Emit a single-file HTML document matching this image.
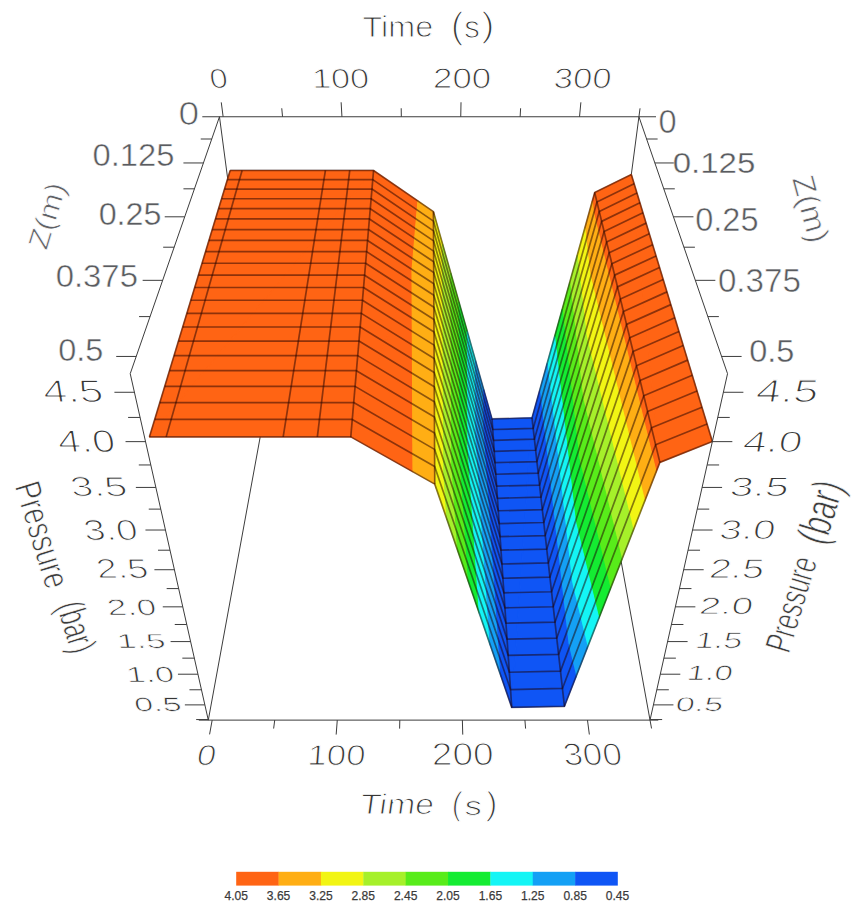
<!DOCTYPE html>
<html><head><meta charset="utf-8"><style>
html,body{margin:0;padding:0;background:#fff;}
svg{display:block;}
text{font-family:"Liberation Sans",sans-serif;}
</style></head><body>
<svg width="862" height="917" viewBox="0 0 862 917">
<rect width="862" height="917" fill="#fff"/>
<line x1="219.47" y1="116.75" x2="261.21" y2="431.44" stroke="#3c3c3c" stroke-width="1.0" />
<line x1="208.30" y1="720.12" x2="261.21" y2="431.44" stroke="#3c3c3c" stroke-width="1.0" />
<line x1="638.93" y1="116.75" x2="597.49" y2="431.44" stroke="#3c3c3c" stroke-width="1.0" />
<line x1="650.03" y1="720.12" x2="597.49" y2="431.44" stroke="#3c3c3c" stroke-width="1.0" />
<polygon points="230.14,170.46 373.56,170.46 149.45,436.87" fill="#ff6414" stroke="#ff6414" stroke-width="1.1" stroke-linejoin="round"/>
<polygon points="373.56,170.46 350.78,436.87 149.45,436.87" fill="#ff6414" stroke="#ff6414" stroke-width="1.1" stroke-linejoin="round"/>
<polygon points="373.56,170.46 417.90,200.96 411.99,270.03 350.78,436.87" fill="#ff6414" stroke="#ff6414" stroke-width="1.1" stroke-linejoin="round"/>
<polygon points="412.99,471.87 350.78,436.87 411.99,270.03" fill="#ff6414" stroke="#ff6414" stroke-width="1.1" stroke-linejoin="round"/>
<polygon points="417.90,200.96 433.42,211.64 411.99,270.03" fill="#ffae14" stroke="#ffae14" stroke-width="1.1" stroke-linejoin="round"/>
<polygon points="433.42,211.64 434.76,484.12 412.99,471.87 411.99,270.03" fill="#ffae14" stroke="#ffae14" stroke-width="1.1" stroke-linejoin="round"/>
<polygon points="433.42,211.64 434.44,215.27 435.77,482.98 434.76,484.12" fill="#ffae14" stroke="#ffae14" stroke-width="1.1" stroke-linejoin="round"/>
<polygon points="436.11,488.04 434.76,484.12 435.77,482.98" fill="#ffae14" stroke="#ffae14" stroke-width="1.1" stroke-linejoin="round"/>
<polygon points="434.44,215.27 442.67,244.37 443.80,473.83 435.77,482.98" fill="#f2f514" stroke="#f2f514" stroke-width="1.1" stroke-linejoin="round"/>
<polygon points="446.92,519.37 436.11,488.04 435.77,482.98 443.80,473.83" fill="#f2f514" stroke="#f2f514" stroke-width="1.1" stroke-linejoin="round"/>
<polygon points="442.67,244.37 450.89,273.46 451.84,464.68 443.80,473.83" fill="#a6f02a" stroke="#a6f02a" stroke-width="1.1" stroke-linejoin="round"/>
<polygon points="457.72,550.71 446.92,519.37 443.80,473.83 451.84,464.68" fill="#a6f02a" stroke="#a6f02a" stroke-width="1.1" stroke-linejoin="round"/>
<polygon points="450.89,273.46 459.12,302.56 459.88,455.53 451.84,464.68" fill="#58ec1a" stroke="#58ec1a" stroke-width="1.1" stroke-linejoin="round"/>
<polygon points="468.52,582.04 457.72,550.71 451.84,464.68 459.88,455.53" fill="#58ec1a" stroke="#58ec1a" stroke-width="1.1" stroke-linejoin="round"/>
<polygon points="459.12,302.56 467.35,331.65 467.91,446.38 459.88,455.53" fill="#14ec32" stroke="#14ec32" stroke-width="1.1" stroke-linejoin="round"/>
<polygon points="479.33,613.38 468.52,582.04 459.88,455.53 467.91,446.38" fill="#14ec32" stroke="#14ec32" stroke-width="1.1" stroke-linejoin="round"/>
<polygon points="467.35,331.65 475.57,360.75 475.95,437.23 467.91,446.38" fill="#14f5f5" stroke="#14f5f5" stroke-width="1.1" stroke-linejoin="round"/>
<polygon points="490.13,644.71 479.33,613.38 467.91,446.38 475.95,437.23" fill="#14f5f5" stroke="#14f5f5" stroke-width="1.1" stroke-linejoin="round"/>
<polygon points="475.57,360.75 483.80,389.84 483.99,428.09 475.95,437.23" fill="#14a0f5" stroke="#14a0f5" stroke-width="1.1" stroke-linejoin="round"/>
<polygon points="500.93,676.05 490.13,644.71 475.95,437.23 483.99,428.09" fill="#14a0f5" stroke="#14a0f5" stroke-width="1.1" stroke-linejoin="round"/>
<polygon points="483.80,389.84 492.02,418.94 483.99,428.09" fill="#0f55f5" stroke="#0f55f5" stroke-width="1.1" stroke-linejoin="round"/>
<polygon points="492.02,418.94 511.74,707.39 500.93,676.05 483.99,428.09" fill="#0f55f5" stroke="#0f55f5" stroke-width="1.1" stroke-linejoin="round"/>
<polygon points="492.02,418.94 532.00,417.88 511.74,707.39" fill="#0f55f5" stroke="#0f55f5" stroke-width="1.1" stroke-linejoin="round"/>
<polygon points="532.00,417.88 564.45,706.30 511.74,707.39" fill="#0f55f5" stroke="#0f55f5" stroke-width="1.1" stroke-linejoin="round"/>
<polygon points="592.24,201.37 594.69,192.58 593.51,212.63" fill="#ff6414" stroke="#ff6414" stroke-width="1.1" stroke-linejoin="round"/>
<polygon points="594.69,192.58 659.88,462.38 656.16,471.90 593.51,212.63" fill="#ff6414" stroke="#ff6414" stroke-width="1.1" stroke-linejoin="round"/>
<polygon points="584.71,228.43 592.24,201.37 593.51,212.63 589.88,274.34" fill="#ffae14" stroke="#ffae14" stroke-width="1.1" stroke-linejoin="round"/>
<polygon points="656.16,471.90 644.69,501.20 589.88,274.34 593.51,212.63" fill="#ffae14" stroke="#ffae14" stroke-width="1.1" stroke-linejoin="round"/>
<polygon points="577.18,255.50 584.71,228.43 589.88,274.34 586.24,336.05" fill="#f2f514" stroke="#f2f514" stroke-width="1.1" stroke-linejoin="round"/>
<polygon points="644.69,501.20 633.23,530.50 586.24,336.05 589.88,274.34" fill="#f2f514" stroke="#f2f514" stroke-width="1.1" stroke-linejoin="round"/>
<polygon points="569.65,282.56 577.18,255.50 586.24,336.05 582.61,397.76" fill="#a6f02a" stroke="#a6f02a" stroke-width="1.1" stroke-linejoin="round"/>
<polygon points="633.23,530.50 621.76,559.80 582.61,397.76 586.24,336.05" fill="#a6f02a" stroke="#a6f02a" stroke-width="1.1" stroke-linejoin="round"/>
<polygon points="562.12,309.62 569.65,282.56 582.61,397.76 578.98,459.47" fill="#58ec1a" stroke="#58ec1a" stroke-width="1.1" stroke-linejoin="round"/>
<polygon points="621.76,559.80 610.30,589.10 578.98,459.47 582.61,397.76" fill="#58ec1a" stroke="#58ec1a" stroke-width="1.1" stroke-linejoin="round"/>
<polygon points="554.59,336.69 562.12,309.62 578.98,459.47 575.34,521.17" fill="#14ec32" stroke="#14ec32" stroke-width="1.1" stroke-linejoin="round"/>
<polygon points="610.30,589.10 598.84,618.40 575.34,521.17 578.98,459.47" fill="#14ec32" stroke="#14ec32" stroke-width="1.1" stroke-linejoin="round"/>
<polygon points="547.06,363.75 554.59,336.69 575.34,521.17 571.71,582.88" fill="#14f5f5" stroke="#14f5f5" stroke-width="1.1" stroke-linejoin="round"/>
<polygon points="598.84,618.40 587.37,647.70 571.71,582.88 575.34,521.17" fill="#14f5f5" stroke="#14f5f5" stroke-width="1.1" stroke-linejoin="round"/>
<polygon points="539.53,390.81 547.06,363.75 571.71,582.88 568.08,644.59" fill="#14a0f5" stroke="#14a0f5" stroke-width="1.1" stroke-linejoin="round"/>
<polygon points="587.37,647.70 575.91,677.00 568.08,644.59 571.71,582.88" fill="#14a0f5" stroke="#14a0f5" stroke-width="1.1" stroke-linejoin="round"/>
<polygon points="532.00,417.88 539.53,390.81 568.08,644.59 564.45,706.30" fill="#0f55f5" stroke="#0f55f5" stroke-width="1.1" stroke-linejoin="round"/>
<polygon points="575.91,677.00 564.45,706.30 568.08,644.59" fill="#0f55f5" stroke="#0f55f5" stroke-width="1.1" stroke-linejoin="round"/>
<polygon points="594.69,192.58 631.33,174.47 659.88,462.38" fill="#ff6414" stroke="#ff6414" stroke-width="1.1" stroke-linejoin="round"/>
<polygon points="631.33,174.47 712.36,441.52 659.88,462.38" fill="#ff6414" stroke="#ff6414" stroke-width="1.1" stroke-linejoin="round"/>
<g fill="none" stroke="#1e0000" stroke-opacity="0.5" stroke-width="1.7" stroke-linejoin="round"><polyline points="230.14,170.46 373.56,170.46 433.42,211.64 492.02,418.94 532.00,417.88 594.69,192.58 631.33,174.47"/><polyline points="227.37,179.62 372.78,179.62 433.46,221.10 492.74,429.48 533.18,428.42 596.94,201.91 634.12,183.66"/><polyline points="224.51,189.04 371.97,189.04 433.51,230.83 493.48,440.28 534.40,439.21 599.26,211.50 636.99,193.11"/><polyline points="221.58,198.73 371.14,198.73 433.56,240.83 494.24,451.33 535.64,450.25 601.64,221.36 639.94,202.83"/><polyline points="218.56,208.70 370.29,208.70 433.61,251.11 495.01,462.64 536.91,461.57 604.09,231.50 642.97,212.84"/><polyline points="215.45,218.97 369.41,218.97 433.66,261.69 495.80,474.23 538.22,473.16 606.62,241.93 646.10,223.13"/><polyline points="212.25,229.54 368.51,229.54 433.72,272.57 496.61,486.11 539.55,485.03 609.21,252.67 649.31,233.73"/><polyline points="208.95,240.43 367.58,240.43 433.77,283.77 497.45,498.28 540.92,497.20 611.88,263.74 652.63,244.66"/><polyline points="205.55,251.65 366.62,251.65 433.83,295.30 498.30,510.77 542.33,509.68 614.64,275.13 656.04,255.91"/><polyline points="202.04,263.23 365.63,263.23 433.89,307.19 499.17,523.57 543.77,522.48 617.48,286.88 659.57,267.52"/><polyline points="198.43,275.17 364.61,275.17 433.95,319.44 500.07,536.70 545.24,535.61 620.40,298.99 663.20,279.50"/><polyline points="194.69,287.50 363.55,287.50 434.01,332.07 500.99,550.18 546.76,549.09 623.42,311.49 666.95,291.86"/><polyline points="190.83,300.23 362.47,300.23 434.07,345.10 501.94,564.02 548.32,562.92 626.54,324.39 670.82,304.62"/><polyline points="186.85,313.39 361.34,313.39 434.14,358.56 502.91,578.23 549.91,577.13 629.76,337.72 674.82,317.81"/><polyline points="182.73,326.99 360.18,326.99 434.21,372.45 503.91,592.83 551.56,591.73 633.09,351.48 678.96,331.44"/><polyline points="178.47,341.07 358.97,341.07 434.28,386.81 504.93,607.83 553.24,606.74 636.52,365.71 683.24,345.55"/><polyline points="174.05,355.63 357.73,355.63 434.35,401.65 505.99,623.26 554.98,622.16 640.08,380.44 687.67,360.14"/><polyline points="169.48,370.72 356.44,370.72 434.43,417.01 507.07,639.12 556.77,638.03 643.76,395.68 692.26,375.26"/><polyline points="164.75,386.36 355.10,386.36 434.51,432.90 508.19,655.45 558.60,654.35 647.58,411.46 697.01,390.92"/><polyline points="159.84,402.57 353.72,402.57 434.59,449.37 509.34,672.25 560.49,671.16 651.53,427.82 701.94,407.17"/><polyline points="154.74,419.40 352.28,419.40 434.67,466.43 510.52,689.56 562.44,688.47 655.63,444.78 707.05,424.02"/><polyline points="149.45,436.87 350.78,436.87 434.76,484.12 511.74,707.39 564.45,706.30 659.88,462.38 712.36,441.52"/><line x1="230.14" y1="170.46" x2="149.45" y2="436.87"/><line x1="242.08" y1="170.46" x2="166.20" y2="436.87"/><line x1="325.41" y1="170.46" x2="283.18" y2="436.87"/><line x1="349.74" y1="170.46" x2="317.34" y2="436.87"/><line x1="373.56" y1="170.46" x2="350.78" y2="436.87"/><line x1="433.42" y1="211.64" x2="434.76" y2="484.12"/><line x1="492.02" y1="418.94" x2="511.74" y2="707.39"/><line x1="532.00" y1="417.88" x2="564.45" y2="706.30"/><line x1="594.69" y1="192.58" x2="659.88" y2="462.38"/><line x1="631.33" y1="174.47" x2="712.36" y2="441.52"/></g>
<line x1="202.30" y1="116.75" x2="638.93" y2="116.75" stroke="#3c3c3c" stroke-width="1.0" />
<line x1="638.93" y1="116.75" x2="656.00" y2="116.75" stroke="#3c3c3c" stroke-width="1.0" />
<line x1="219.47" y1="116.75" x2="130.23" y2="373.68" stroke="#3c3c3c" stroke-width="1.0" />
<line x1="638.93" y1="116.75" x2="727.54" y2="373.68" stroke="#3c3c3c" stroke-width="1.0" />
<line x1="130.23" y1="373.68" x2="208.30" y2="720.12" stroke="#3c3c3c" stroke-width="1.0" />
<line x1="727.54" y1="373.68" x2="650.03" y2="720.12" stroke="#3c3c3c" stroke-width="1.0" />
<line x1="198.80" y1="720.12" x2="658.30" y2="720.12" stroke="#3c3c3c" stroke-width="1.0" />
<line x1="211.74" y1="139.01" x2="200.74" y2="139.01" stroke="#3c3c3c" stroke-width="1.0" />
<line x1="646.61" y1="139.01" x2="657.61" y2="139.01" stroke="#3c3c3c" stroke-width="1.0" />
<line x1="203.42" y1="162.96" x2="183.42" y2="162.96" stroke="#3c3c3c" stroke-width="1.0" />
<line x1="654.87" y1="162.96" x2="674.87" y2="162.96" stroke="#3c3c3c" stroke-width="1.0" />
<line x1="194.44" y1="188.82" x2="183.44" y2="188.82" stroke="#3c3c3c" stroke-width="1.0" />
<line x1="663.79" y1="188.82" x2="674.79" y2="188.82" stroke="#3c3c3c" stroke-width="1.0" />
<line x1="184.72" y1="216.81" x2="164.72" y2="216.81" stroke="#3c3c3c" stroke-width="1.0" />
<line x1="673.44" y1="216.81" x2="693.44" y2="216.81" stroke="#3c3c3c" stroke-width="1.0" />
<line x1="174.16" y1="247.21" x2="163.16" y2="247.21" stroke="#3c3c3c" stroke-width="1.0" />
<line x1="683.92" y1="247.21" x2="694.92" y2="247.21" stroke="#3c3c3c" stroke-width="1.0" />
<line x1="162.65" y1="280.34" x2="142.65" y2="280.34" stroke="#3c3c3c" stroke-width="1.0" />
<line x1="695.35" y1="280.34" x2="715.35" y2="280.34" stroke="#3c3c3c" stroke-width="1.0" />
<line x1="150.05" y1="316.60" x2="139.05" y2="316.60" stroke="#3c3c3c" stroke-width="1.0" />
<line x1="707.86" y1="316.60" x2="718.86" y2="316.60" stroke="#3c3c3c" stroke-width="1.0" />
<line x1="136.21" y1="356.45" x2="116.21" y2="356.45" stroke="#3c3c3c" stroke-width="1.0" />
<line x1="721.60" y1="356.45" x2="741.60" y2="356.45" stroke="#3c3c3c" stroke-width="1.0" />
<line x1="208.17" y1="719.55" x2="196.17" y2="719.55" stroke="#3c3c3c" stroke-width="1.0" />
<line x1="650.15" y1="719.55" x2="662.15" y2="719.55" stroke="#3c3c3c" stroke-width="1.0" />
<line x1="204.86" y1="704.88" x2="184.86" y2="704.88" stroke="#3c3c3c" stroke-width="1.0" />
<line x1="653.44" y1="704.88" x2="673.44" y2="704.88" stroke="#3c3c3c" stroke-width="1.0" />
<line x1="201.46" y1="689.78" x2="189.46" y2="689.78" stroke="#3c3c3c" stroke-width="1.0" />
<line x1="656.82" y1="689.78" x2="668.82" y2="689.78" stroke="#3c3c3c" stroke-width="1.0" />
<line x1="197.95" y1="674.21" x2="177.95" y2="674.21" stroke="#3c3c3c" stroke-width="1.0" />
<line x1="660.30" y1="674.21" x2="680.30" y2="674.21" stroke="#3c3c3c" stroke-width="1.0" />
<line x1="194.33" y1="658.15" x2="182.33" y2="658.15" stroke="#3c3c3c" stroke-width="1.0" />
<line x1="663.89" y1="658.15" x2="675.89" y2="658.15" stroke="#3c3c3c" stroke-width="1.0" />
<line x1="190.60" y1="641.59" x2="170.60" y2="641.59" stroke="#3c3c3c" stroke-width="1.0" />
<line x1="667.60" y1="641.59" x2="687.60" y2="641.59" stroke="#3c3c3c" stroke-width="1.0" />
<line x1="186.75" y1="624.49" x2="174.75" y2="624.49" stroke="#3c3c3c" stroke-width="1.0" />
<line x1="671.42" y1="624.49" x2="683.42" y2="624.49" stroke="#3c3c3c" stroke-width="1.0" />
<line x1="182.77" y1="606.83" x2="162.77" y2="606.83" stroke="#3c3c3c" stroke-width="1.0" />
<line x1="675.37" y1="606.83" x2="695.37" y2="606.83" stroke="#3c3c3c" stroke-width="1.0" />
<line x1="178.66" y1="588.59" x2="166.66" y2="588.59" stroke="#3c3c3c" stroke-width="1.0" />
<line x1="679.46" y1="588.59" x2="691.46" y2="588.59" stroke="#3c3c3c" stroke-width="1.0" />
<line x1="174.41" y1="569.73" x2="154.41" y2="569.73" stroke="#3c3c3c" stroke-width="1.0" />
<line x1="683.68" y1="569.73" x2="703.68" y2="569.73" stroke="#3c3c3c" stroke-width="1.0" />
<line x1="170.01" y1="550.21" x2="158.01" y2="550.21" stroke="#3c3c3c" stroke-width="1.0" />
<line x1="688.04" y1="550.21" x2="700.04" y2="550.21" stroke="#3c3c3c" stroke-width="1.0" />
<line x1="165.46" y1="530.02" x2="145.46" y2="530.02" stroke="#3c3c3c" stroke-width="1.0" />
<line x1="692.56" y1="530.02" x2="712.56" y2="530.02" stroke="#3c3c3c" stroke-width="1.0" />
<line x1="160.75" y1="509.11" x2="148.75" y2="509.11" stroke="#3c3c3c" stroke-width="1.0" />
<line x1="697.24" y1="509.11" x2="709.24" y2="509.11" stroke="#3c3c3c" stroke-width="1.0" />
<line x1="155.86" y1="487.43" x2="135.86" y2="487.43" stroke="#3c3c3c" stroke-width="1.0" />
<line x1="702.09" y1="487.43" x2="722.09" y2="487.43" stroke="#3c3c3c" stroke-width="1.0" />
<line x1="150.80" y1="464.96" x2="138.80" y2="464.96" stroke="#3c3c3c" stroke-width="1.0" />
<line x1="707.12" y1="464.96" x2="719.12" y2="464.96" stroke="#3c3c3c" stroke-width="1.0" />
<line x1="145.54" y1="441.64" x2="125.54" y2="441.64" stroke="#3c3c3c" stroke-width="1.0" />
<line x1="712.33" y1="441.64" x2="732.33" y2="441.64" stroke="#3c3c3c" stroke-width="1.0" />
<line x1="140.09" y1="417.43" x2="128.09" y2="417.43" stroke="#3c3c3c" stroke-width="1.0" />
<line x1="717.75" y1="417.43" x2="729.75" y2="417.43" stroke="#3c3c3c" stroke-width="1.0" />
<line x1="134.42" y1="392.27" x2="114.42" y2="392.27" stroke="#3c3c3c" stroke-width="1.0" />
<line x1="723.38" y1="392.27" x2="743.38" y2="392.27" stroke="#3c3c3c" stroke-width="1.0" />
<line x1="223.14" y1="116.75" x2="221.27" y2="102.37" stroke="#3c3c3c" stroke-width="1.0" />
<line x1="212.16" y1="720.12" x2="209.59" y2="734.39" stroke="#3c3c3c" stroke-width="1.0" />
<line x1="282.54" y1="116.75" x2="281.76" y2="108.28" stroke="#3c3c3c" stroke-width="1.0" />
<line x1="274.72" y1="720.12" x2="273.63" y2="728.55" stroke="#3c3c3c" stroke-width="1.0" />
<line x1="341.94" y1="116.75" x2="341.14" y2="102.27" stroke="#3c3c3c" stroke-width="1.0" />
<line x1="337.27" y1="720.12" x2="336.16" y2="734.58" stroke="#3c3c3c" stroke-width="1.0" />
<line x1="401.34" y1="116.75" x2="401.19" y2="108.25" stroke="#3c3c3c" stroke-width="1.0" />
<line x1="399.82" y1="720.12" x2="399.61" y2="728.62" stroke="#3c3c3c" stroke-width="1.0" />
<line x1="460.74" y1="116.75" x2="461.02" y2="102.25" stroke="#3c3c3c" stroke-width="1.0" />
<line x1="462.37" y1="720.12" x2="462.76" y2="734.62" stroke="#3c3c3c" stroke-width="1.0" />
<line x1="520.13" y1="116.75" x2="520.62" y2="108.26" stroke="#3c3c3c" stroke-width="1.0" />
<line x1="524.92" y1="720.12" x2="525.59" y2="728.59" stroke="#3c3c3c" stroke-width="1.0" />
<line x1="579.53" y1="116.75" x2="580.89" y2="102.31" stroke="#3c3c3c" stroke-width="1.0" />
<line x1="587.47" y1="720.12" x2="589.35" y2="734.50" stroke="#3c3c3c" stroke-width="1.0" />
<line x1="638.93" y1="116.75" x2="640.04" y2="108.32" stroke="#3c3c3c" stroke-width="1.0" />
<line x1="650.03" y1="720.12" x2="651.55" y2="728.48" stroke="#3c3c3c" stroke-width="1.0" />
<g><text transform="matrix(0.3236,0.0000,-0.0000,0.2950,362.5438,37.2212)" font-size="100" fill="#363636" stroke="#fff" stroke-width="3.38" stroke-linejoin="round">Time</text><text transform="matrix(0.3874,0.0000,-0.0000,0.3613,450.8102,37.5448)" font-size="100" fill="#363636" stroke="#fff" stroke-width="3.66" stroke-linejoin="round">(</text><text transform="matrix(0.3109,0.0000,-0.0000,0.3072,464.3721,38.3419)" font-size="100" fill="#363636" stroke="#fff" stroke-width="3.38" stroke-linejoin="round">s</text><text transform="matrix(0.4085,0.0000,-0.0000,0.3549,481.0015,37.1270)" font-size="100" fill="#363636" stroke="#fff" stroke-width="3.69" stroke-linejoin="round">)</text><text transform="matrix(0.3257,0.0000,0.0357,0.2750,210.7435,87.8388)" font-size="100" fill="#363636" stroke="#fff" stroke-width="3.33" stroke-linejoin="round">0</text><text transform="matrix(0.3434,0.0000,0.0154,0.2750,312.4132,87.8388)" font-size="100" fill="#363636" stroke="#fff" stroke-width="3.37" stroke-linejoin="round">100</text><text transform="matrix(0.3497,0.0000,-0.0054,0.2826,432.6958,88.3504)" font-size="100" fill="#363636" stroke="#fff" stroke-width="3.41" stroke-linejoin="round">200</text><text transform="matrix(0.3452,0.0000,-0.0267,0.2826,553.0051,88.3504)" font-size="100" fill="#363636" stroke="#fff" stroke-width="3.40" stroke-linejoin="round">300</text><text transform="matrix(0.3408,0.0000,-0.0515,0.2865,195.4298,764.8327)" font-size="100" fill="#363636" stroke="#fff" stroke-width="3.40" stroke-linejoin="round">0</text><text transform="matrix(0.3490,0.0000,-0.0220,0.2865,306.6568,764.8327)" font-size="100" fill="#363636" stroke="#fff" stroke-width="3.42" stroke-linejoin="round">100</text><text transform="matrix(0.3712,0.0000,0.0083,0.3180,432.0892,765.4214)" font-size="100" fill="#363636" stroke="#fff" stroke-width="3.54" stroke-linejoin="round">200</text><text transform="matrix(0.3525,0.0000,0.0404,0.3107,564.4550,765.4191)" font-size="100" fill="#363636" stroke="#fff" stroke-width="3.49" stroke-linejoin="round">300</text><text transform="matrix(0.3386,0.0000,-0.0402,0.2858,358.9473,813.6896)" font-size="100" fill="#363636" stroke="#fff" stroke-width="3.39" stroke-linejoin="round">Time</text><text transform="matrix(0.2988,0.0000,-0.0231,0.3308,451.2111,814.6515)" font-size="100" fill="#363636" stroke="#fff" stroke-width="3.41" stroke-linejoin="round">(</text><text transform="matrix(0.3452,0.0000,-0.0139,0.2643,464.2851,814.7549)" font-size="100" fill="#363636" stroke="#fff" stroke-width="3.34" stroke-linejoin="round">s</text><text transform="matrix(0.3499,0.0000,-0.0116,0.3315,485.5098,814.6683)" font-size="100" fill="#363636" stroke="#fff" stroke-width="3.53" stroke-linejoin="round">)</text><text transform="matrix(0.3709,0.0000,-0.0000,0.3404,178.6148,125.1954)" font-size="100" fill="#5a5c60" stroke="#fff" stroke-width="2.18" stroke-linejoin="round">0</text><text transform="matrix(0.3277,0.0000,-0.0000,0.3204,92.4153,166.4042)" font-size="100" fill="#5a5c60" stroke="#fff" stroke-width="1.48" stroke-linejoin="round">0.125</text><text transform="matrix(0.3228,0.0000,-0.0000,0.3152,98.6619,224.5747)" font-size="100" fill="#5a5c60" stroke="#fff" stroke-width="1.35" stroke-linejoin="round">0.25</text><text transform="matrix(0.3288,0.0000,-0.0000,0.3204,55.6521,287.3042)" font-size="100" fill="#5a5c60" stroke="#fff" stroke-width="1.49" stroke-linejoin="round">0.375</text><text transform="matrix(0.3249,0.0000,-0.0000,0.3189,58.1786,361.4014)" font-size="100" fill="#5a5c60" stroke="#fff" stroke-width="1.42" stroke-linejoin="round">0.5</text><text transform="matrix(0.3257,0.0000,-0.0000,0.3355,658.3797,132.8262)" font-size="100" fill="#5a5c60" stroke="#fff" stroke-width="1.64" stroke-linejoin="round">0</text><text transform="matrix(0.3306,0.0000,-0.0000,0.2999,672.6777,173.4962)" font-size="100" fill="#5a5c60" stroke="#fff" stroke-width="1.24" stroke-linejoin="round">0.125</text><text transform="matrix(0.3255,0.0000,-0.0000,0.3286,695.1584,230.7879)" font-size="100" fill="#5a5c60" stroke="#fff" stroke-width="1.55" stroke-linejoin="round">0.25</text><text transform="matrix(0.3319,0.0000,-0.0000,0.3286,717.8812,292.4879)" font-size="100" fill="#5a5c60" stroke="#fff" stroke-width="1.63" stroke-linejoin="round">0.375</text><text transform="matrix(0.3249,0.0000,-0.0000,0.3044,749.1526,361.5027)" font-size="100" fill="#5a5c60" stroke="#fff" stroke-width="1.23" stroke-linejoin="round">0.5</text><text transform="matrix(0.4332,0.0000,0.0502,0.3170,44.4731,402.2267)" font-size="100" fill="#363636" stroke="#fff" stroke-width="3.65" stroke-linejoin="round">4.5</text><text transform="matrix(0.4126,0.0000,0.0499,0.3150,59.2752,451.5176)" font-size="100" fill="#363636" stroke="#fff" stroke-width="3.61" stroke-linejoin="round">4.0</text><text transform="matrix(0.4086,0.0000,0.0435,0.2744,71.7224,495.5651)" font-size="100" fill="#363636" stroke="#fff" stroke-width="3.51" stroke-linejoin="round">3.5</text><text transform="matrix(0.3884,0.0000,0.0458,0.2891,85.2044,539.5241)" font-size="100" fill="#363636" stroke="#fff" stroke-width="3.51" stroke-linejoin="round">3.0</text><text transform="matrix(0.3734,0.0000,0.0435,0.2744,97.7286,578.4651)" font-size="100" fill="#363636" stroke="#fff" stroke-width="3.44" stroke-linejoin="round">2.5</text><text transform="matrix(0.3524,0.0000,0.0356,0.2246,108.2920,614.6973)" font-size="100" fill="#363636" stroke="#fff" stroke-width="3.22" stroke-linejoin="round">2.0</text><text transform="matrix(0.3505,0.0000,0.0321,0.2024,117.7585,647.8322)" font-size="100" fill="#363636" stroke="#fff" stroke-width="3.12" stroke-linejoin="round">1.5</text><text transform="matrix(0.3464,0.0000,0.0346,0.2183,127.1783,681.6326)" font-size="100" fill="#363636" stroke="#fff" stroke-width="3.18" stroke-linejoin="round">1.0</text><text transform="matrix(0.3403,0.0000,0.0305,0.1925,135.1324,710.7415)" font-size="100" fill="#363636" stroke="#fff" stroke-width="3.05" stroke-linejoin="round">0.5</text><text transform="matrix(0.4459,0.0000,-0.0511,0.3226,754.8681,401.6169)" font-size="100" fill="#363636" stroke="#fff" stroke-width="3.68" stroke-linejoin="round">4.5</text><text transform="matrix(0.4257,0.0000,-0.0468,0.2954,741.7131,451.7407)" font-size="100" fill="#363636" stroke="#fff" stroke-width="3.59" stroke-linejoin="round">4.0</text><text transform="matrix(0.4232,0.0000,-0.0427,0.2697,728.6342,495.5553)" font-size="100" fill="#363636" stroke="#fff" stroke-width="3.52" stroke-linejoin="round">3.5</text><text transform="matrix(0.4030,0.0000,-0.0431,0.2724,718.2505,538.7478)" font-size="100" fill="#363636" stroke="#fff" stroke-width="3.49" stroke-linejoin="round">3.0</text><text transform="matrix(0.3927,0.0000,-0.0431,0.2724,708.2027,577.7478)" font-size="100" fill="#363636" stroke="#fff" stroke-width="3.47" stroke-linejoin="round">2.5</text><text transform="matrix(0.3859,0.0000,-0.0374,0.2361,698.2193,613.7956)" font-size="100" fill="#363636" stroke="#fff" stroke-width="3.34" stroke-linejoin="round">2.0</text><text transform="matrix(0.3385,0.0000,-0.0359,0.2268,694.2552,648.2097)" font-size="100" fill="#363636" stroke="#fff" stroke-width="3.20" stroke-linejoin="round">1.5</text><text transform="matrix(0.3292,0.0000,-0.0330,0.2081,686.0950,680.3304)" font-size="100" fill="#363636" stroke="#fff" stroke-width="3.09" stroke-linejoin="round">1.0</text><text transform="matrix(0.3427,0.0000,-0.0314,0.1985,674.7158,710.6498)" font-size="100" fill="#363636" stroke="#fff" stroke-width="3.08" stroke-linejoin="round">0.5</text><text transform="translate(47.08,215.66) rotate(-73) skewX(0) scale(1.1332,1)" font-size="28.361" fill="#5f6166" stroke="#fff" stroke-width="0.7" stroke-linejoin="round" text-anchor="middle" dominant-baseline="central">Z(m)</text><text transform="translate(811.08,208.8) rotate(75) skewX(0) scale(1.061,1)" font-size="30.556" fill="#5f6166" stroke="#fff" stroke-width="0.7" stroke-linejoin="round" text-anchor="middle" dominant-baseline="central">Z(m)</text><text transform="translate(42.3,534.7) rotate(73) skewX(0) scale(0.7553,1)" font-size="36.268" fill="#3c3c3c" stroke="#fff" stroke-width="0.9" stroke-linejoin="round" text-anchor="middle" dominant-baseline="central">Pressure</text><text transform="translate(76.5,627.0) rotate(73) skewX(0) scale(0.6345,1)" font-size="38.786" fill="#3c3c3c" stroke="#fff" stroke-width="0.9" stroke-linejoin="round" text-anchor="middle" dominant-baseline="central">(bar)</text><text transform="translate(820.2,512.0) rotate(-73) skewX(0) scale(0.6904,1)" font-size="43.917" fill="#3c3c3c" stroke="#fff" stroke-width="0.9" stroke-linejoin="round" text-anchor="middle" dominant-baseline="central">(bar)</text><text transform="translate(791.3,604.2) rotate(-73) skewX(0) scale(0.66,1)" font-size="36.964" fill="#3c3c3c" stroke="#fff" stroke-width="0.9" stroke-linejoin="round" text-anchor="middle" dominant-baseline="central">Pressure</text></g>
<rect x="236.20" y="871.8" width="42.67" height="13.80" fill="#ff6414"/>
<rect x="278.57" y="871.8" width="42.67" height="13.80" fill="#ffae14"/>
<rect x="320.93" y="871.8" width="42.67" height="13.80" fill="#f2f514"/>
<rect x="363.30" y="871.8" width="42.67" height="13.80" fill="#a6f02a"/>
<rect x="405.67" y="871.8" width="42.67" height="13.80" fill="#58ec1a"/>
<rect x="448.03" y="871.8" width="42.67" height="13.80" fill="#14ec32"/>
<rect x="490.40" y="871.8" width="42.67" height="13.80" fill="#14f5f5"/>
<rect x="532.77" y="871.8" width="42.67" height="13.80" fill="#14a0f5"/>
<rect x="575.13" y="871.8" width="42.67" height="13.80" fill="#0f55f5"/>
<text x="236.20" y="899.7" font-size="13.6" fill="#3a3a3a" stroke="#3a3a3a" stroke-width="0.25" text-anchor="middle" textLength="23.5" lengthAdjust="spacingAndGlyphs">4.05</text>
<text x="278.57" y="899.7" font-size="13.6" fill="#3a3a3a" stroke="#3a3a3a" stroke-width="0.25" text-anchor="middle" textLength="23.5" lengthAdjust="spacingAndGlyphs">3.65</text>
<text x="320.93" y="899.7" font-size="13.6" fill="#3a3a3a" stroke="#3a3a3a" stroke-width="0.25" text-anchor="middle" textLength="23.5" lengthAdjust="spacingAndGlyphs">3.25</text>
<text x="363.30" y="899.7" font-size="13.6" fill="#3a3a3a" stroke="#3a3a3a" stroke-width="0.25" text-anchor="middle" textLength="23.5" lengthAdjust="spacingAndGlyphs">2.85</text>
<text x="405.67" y="899.7" font-size="13.6" fill="#3a3a3a" stroke="#3a3a3a" stroke-width="0.25" text-anchor="middle" textLength="23.5" lengthAdjust="spacingAndGlyphs">2.45</text>
<text x="448.03" y="899.7" font-size="13.6" fill="#3a3a3a" stroke="#3a3a3a" stroke-width="0.25" text-anchor="middle" textLength="23.5" lengthAdjust="spacingAndGlyphs">2.05</text>
<text x="490.40" y="899.7" font-size="13.6" fill="#3a3a3a" stroke="#3a3a3a" stroke-width="0.25" text-anchor="middle" textLength="23.5" lengthAdjust="spacingAndGlyphs">1.65</text>
<text x="532.77" y="899.7" font-size="13.6" fill="#3a3a3a" stroke="#3a3a3a" stroke-width="0.25" text-anchor="middle" textLength="23.5" lengthAdjust="spacingAndGlyphs">1.25</text>
<text x="575.13" y="899.7" font-size="13.6" fill="#3a3a3a" stroke="#3a3a3a" stroke-width="0.25" text-anchor="middle" textLength="23.5" lengthAdjust="spacingAndGlyphs">0.85</text>
<text x="617.50" y="899.7" font-size="13.6" fill="#3a3a3a" stroke="#3a3a3a" stroke-width="0.25" text-anchor="middle" textLength="23.5" lengthAdjust="spacingAndGlyphs">0.45</text>
</svg></body></html>
